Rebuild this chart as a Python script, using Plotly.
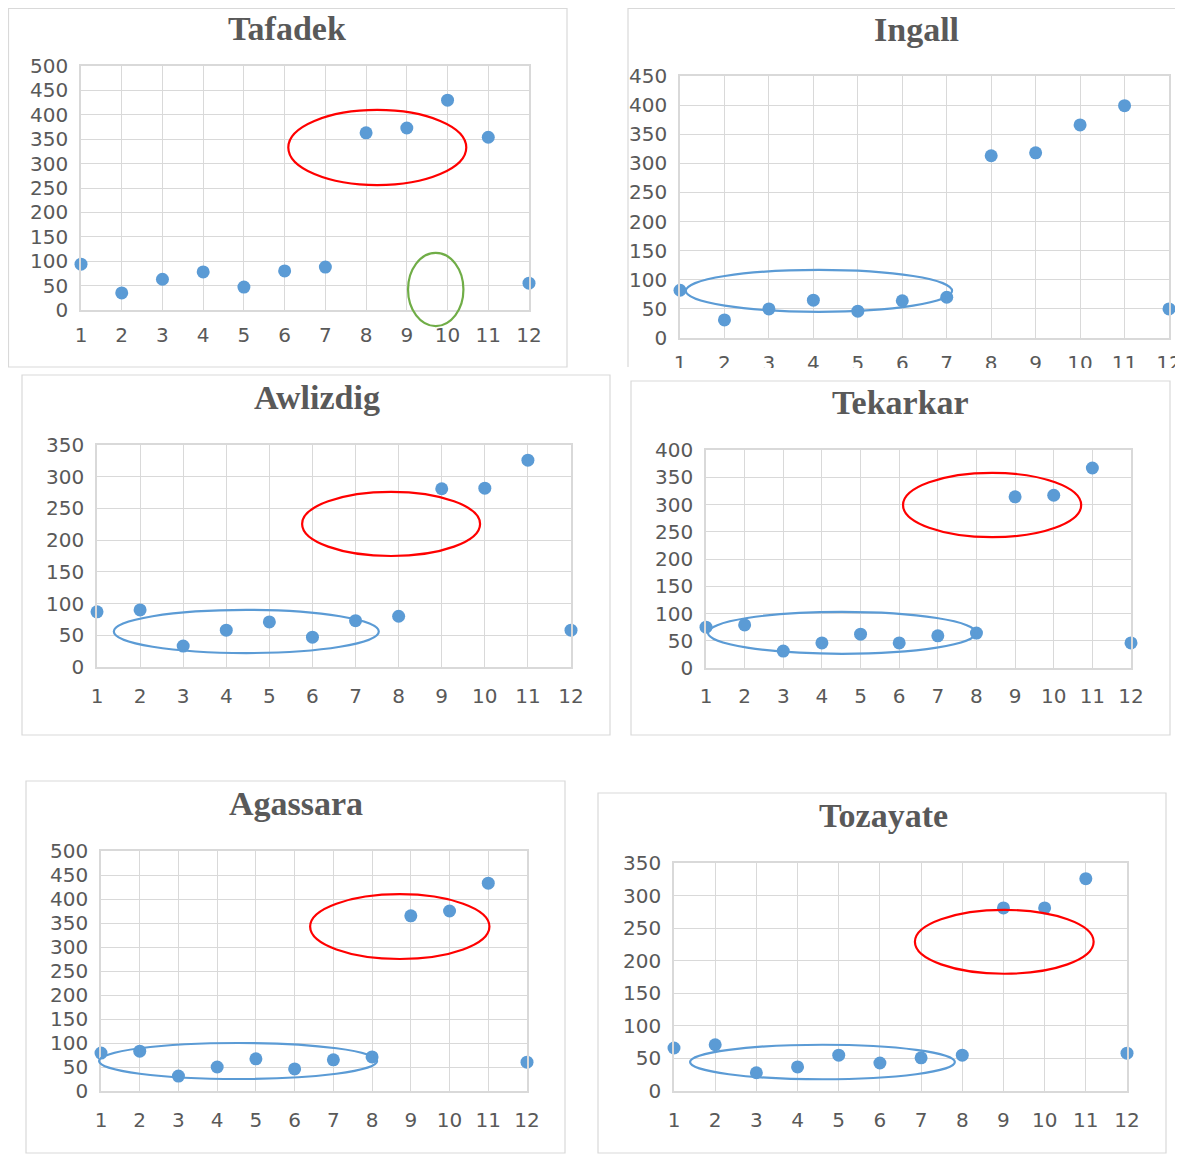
import plotly.graph_objects as go

W, H = 1183, 1154
OFF = 8  # the page body adds an 8px offset; compensate so pixels match the reference
FW, FH = W - OFF, H - OFF

months = list(range(1, 13))
month_labels = [str(m) for m in months]

titles = ["Tafadek", "Ingall", "Awlizdig", "Tekarkar", "Agassara", "Tozayate"]

tafadek = [94, 35, 63, 78, 47, 80, 88, 363, 373, 430, 354, 55]
ingall = [82, 31, 50, 65, 46, 64, 70, 313, 318, 366, 399, 50]
awlizdig = [87, 90, 33, 58, 71, 47, 73, 80, 281, 282, 326, 58]
tekarkar = [75, 79, 31, 46, 62, 46, 59, 64, 314, 317, 367, 46]
agassara = [79, 83, 31, 50, 67, 46, 65, 71, 365, 375, 433, 60]
tozayate = [66, 71, 28, 37, 55, 43, 51, 55, 281, 281, 326, 58]

series = [tafadek, ingall, awlizdig, tekarkar, agassara, tozayate]
y_max = [500, 450, 350, 400, 500, 350]
x_range = [1, 12]

# highlight ellipses in data coordinates: (panel, x0, x1, y0, y1, colour)
ellipses = [
    (0, 6.09, 10.46, 256, 410, "#FF0000"),
    (0, 9.03, 10.39, -33, 117, "#70AD47"),
    (1, 1.13, 7.12, 45, 117, "#5B9BD5"),
    (2, 5.76, 9.89, 175, 276, "#FF0000"),
    (2, 1.39, 7.54, 22, 90, "#5B9BD5"),
    (3, 6.10, 10.71, 240, 358, "#FF0000"),
    (3, 1.05, 7.99, 26, 103, "#5B9BD5"),
    (4, 6.40, 11.03, 275, 410, "#FF0000"),
    (4, 0.95, 8.13, 25, 100, "#5B9BD5"),
    (5, 6.85, 11.19, 180, 278, "#FF0000"),
    (5, 1.39, 7.82, 18, 71, "#5B9BD5"),
]

# layout geometry in pixels (reference picture coordinates)
plot_px = [  # x0, x1, ytop, ybottom
    (81, 529, 66, 310),
    (680, 1169, 76, 338),
    (97, 571, 445, 667),
    (706, 1131, 450, 668),
    (101, 527, 851, 1091),
    (674, 1127, 863, 1091),
]
box_px = [  # x0, y0, x1, y1
    (8.5, 8.5, 567, 367),
    (628, 8.5, 1183, 367),
    (22, 375, 610, 735),
    (631, 381, 1170, 735),
    (26, 781, 565, 1153),
    (598, 793, 1166, 1153),
]
title_px = [(287, 28), (916, 29), (317, 397), (900, 403), (296, 803), (883, 815)]
xlab_len = [6, 6, 10, 9, 10, 10]

def px(x):
    return (x - OFF) / FW

def py(y):
    return 1 - (y - OFF) / FH

grid = "#D9D9D9"
txt = "#595959"
fig = go.Figure()
layout = dict(
    width=FW, height=FH, margin=dict(l=0, r=0, t=0, b=0, pad=0, autoexpand=False),
    paper_bgcolor="white", plot_bgcolor="white", showlegend=False,
    font=dict(family="DejaVu Sans", color=txt),
)
shapes = []
annotations = []

for i in range(6):
    n = "" if i == 0 else str(i + 1)
    x0, x1, yt, yb = plot_px[i]
    fig.add_trace(go.Scatter(
        x=months, y=series[i], mode="markers",
        marker=dict(size=13, color="#5B9BD5"),
        xaxis="x" + n, yaxis="y" + n, cliponaxis=False,
    ))
    layout["xaxis" + n] = dict(
        domain=[px(x0), px(x1)], anchor="y" + n, range=x_range,
        tickvals=months, ticktext=month_labels,
        showgrid=True, gridcolor=grid, gridwidth=1, zeroline=False,
        showline=True, linecolor=grid, linewidth=1.5, mirror=True,
        ticks="outside", ticklen=xlab_len[i], tickcolor="rgba(0,0,0,0)",
        tickfont=dict(size=20, color=txt, family="DejaVu Sans"),
        fixedrange=True, automargin=False,
    )
    layout["yaxis" + n] = dict(
        domain=[py(yb), py(yt)], anchor="x" + n, range=[0, y_max[i]],
        dtick=50, tick0=0,
        showgrid=True, gridcolor=grid, gridwidth=1, zeroline=False,
        showline=True, linecolor=grid, linewidth=1.5, mirror=True,
        ticks="outside", ticklen=7, tickcolor="rgba(0,0,0,0)",
        tickfont=dict(size=20, color=txt, family="DejaVu Sans"),
        fixedrange=True, automargin=False,
    )
    annotations.append(dict(
        text="<b>" + titles[i] + "</b>", x=px(title_px[i][0]), y=py(title_px[i][1]),
        xref="paper", yref="paper", showarrow=False, xanchor="center", yanchor="middle",
        font=dict(family="Liberation Serif", size=34, color=txt),
    ))

# ellipses: data values converted to axis-domain fractions so they are not clipped
for (p, ex0, ex1, ey0, ey1, col) in ellipses:
    n = "" if p == 0 else str(p + 1)
    span = x_range[1] - x_range[0]
    shapes.append(dict(type="circle", xref="x" + n + " domain", yref="y" + n + " domain",
                       x0=(ex0 - x_range[0]) / span, x1=(ex1 - x_range[0]) / span,
                       y0=ey0 / y_max[p], y1=ey1 / y_max[p],
                       line=dict(color=col, width=2.2), layer="above"))

# Ingall panel is cropped at the bottom in the source picture
shapes.append(dict(type="rect", xref="paper", yref="paper",
                   x0=px(636), x1=1, y0=py(380), y1=py(368),
                   fillcolor="white", line=dict(width=0), layer="above"))

for i, (bx0, by0, bx1, by1) in enumerate(box_px):
    if i == 1:
        shapes.append(dict(type="path", xref="paper", yref="paper",
                           path=f"M {px(bx0)} {py(by1)} L {px(bx0)} {py(by0)} L {px(bx1)} {py(by0)}",
                           line=dict(color=grid, width=1.2), layer="above"))
    else:
        shapes.append(dict(type="rect", xref="paper", yref="paper",
                           x0=px(bx0), x1=px(bx1), y0=py(by1), y1=py(by0),
                           line=dict(color=grid, width=1.2), layer="below"))

layout["shapes"] = shapes
layout["annotations"] = annotations
fig.update_layout(**layout)
fig.write_html("out.html")
